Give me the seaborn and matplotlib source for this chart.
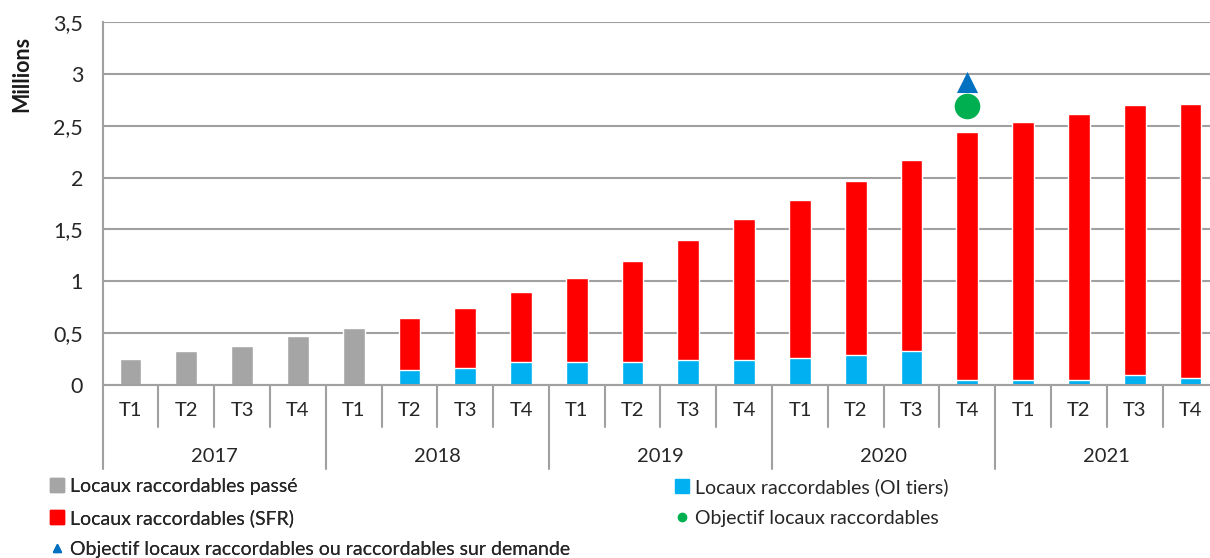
import numpy as np
import pandas as pd
import matplotlib
matplotlib.use("Agg")
import matplotlib.pyplot as plt
import matplotlib.transforms as mtransforms
from matplotlib.lines import Line2D
import seaborn as sns

years = ["2017", "2018", "2019", "2020", "2021"]
quarters = ["T1", "T2", "T3", "T4"]
categories = [f"{y} {q}" for y in years for q in quarters]

# Locaux raccordables passé (2017 T1 -> 2018 T1)
passe_cats = categories[:5]
passe = [0.25, 0.325, 0.375, 0.475, 0.55]

# 2018 T2 -> 2021 T4
split_cats = categories[5:]
oi_tiers = [0.14, 0.165, 0.225, 0.225, 0.225, 0.24, 0.24, 0.265, 0.285, 0.325,
            0.05, 0.05, 0.05, 0.095, 0.07]
sfr = [0.505, 0.58, 0.67, 0.805, 0.975, 1.16, 1.36, 1.515, 1.685, 1.845,
       2.39, 2.49, 2.56, 2.605, 2.64]

objectif_cat = "2020 T4"
objectif = 2.69
objectif_demande = 2.92

sns.set_style("white")
plt.rcParams["font.family"] = ["Lato", "DejaVu Sans"]

GRAY = "#A5A5A5"
RED = "#FF0000"
BLUE = "#00B0F0"
GREEN = "#00B050"
DBLUE = "#0070C0"
AXC = "#A0A0A0"

fig = plt.figure(figsize=(12.1, 5.58), dpi=100)
ax = fig.add_axes([102.6 / 1210, 1 - 385 / 558, 1 - 102.6 / 1210, 363 / 558])

total = [a + b for a, b in zip(oi_tiers, sfr)]
bw = 0.39
sns.barplot(x=passe_cats, y=passe, order=categories, color=GRAY, width=bw,
            saturation=1, errorbar=None, ax=ax)
sns.barplot(x=split_cats, y=total, order=categories, color=RED, width=bw,
            saturation=1, errorbar=None, ax=ax)
sns.barplot(x=split_cats, y=oi_tiers, order=categories, color=BLUE, width=bw,
            saturation=1, errorbar=None, ax=ax)

xi = categories.index(objectif_cat)
ax.scatter([xi], [objectif], marker="o", s=340, color=GREEN, zorder=5, linewidths=0)
ax.scatter([xi], [objectif_demande], marker="^", s=230, color=DBLUE, zorder=5, linewidths=0)

ax.set_ylim(0, 3.5)
ax.set_xlim(-0.5, 19.35)
ax.set_yticks(np.arange(0, 3.51, 0.5))
ax.set_yticklabels([f"{v:g}".replace(".", ",") for v in np.arange(0, 3.51, 0.5)], fontsize=15.5)
ax.set_xticks([])
ax.set_xlabel("")
ax.yaxis.grid(True, color=AXC, lw=1.5)
ax.set_axisbelow(True)
ax.tick_params(axis="y", length=8, width=1.5, color=AXC, pad=6, labelcolor="#262626")
for s in ["top", "right"]:
    ax.spines[s].set_visible(False)
for s in ["left", "bottom"]:
    ax.spines[s].set_color(AXC)
    ax.spines[s].set_linewidth(1.5)

# multi-level category axis
tr = mtransforms.blended_transform_factory(ax.transData, ax.transAxes)
h = 363.0
for k in range(21):
    bottom = -(469 - 385) / h if k % 4 == 0 else -(427 - 385) / h
    ax.plot([k - 0.5, k - 0.5], [0, bottom], color=AXC, lw=1.5, transform=tr, clip_on=False)
for i, c in enumerate(categories):
    ax.text(i, -(410 - 385) / h, c.split()[1], transform=tr, ha="center", va="center",
            fontsize=14.5, color="#262626")
for j, y in enumerate(years):
    ax.text(j * 4 + 1.5, -(456 - 385) / h, y, transform=tr, ha="center", va="center",
            fontsize=14.5, color="#262626")

fig.text(22 / 1210, 1 - 74 / 558, "Millions", rotation=90, ha="center", va="center",
         fontsize=15.5, fontweight="bold", color="#1a1a1a")

# legend
h_passe = Line2D([], [], marker="s", color=GRAY, linestyle="none", markersize=10)
h_sfr = Line2D([], [], marker="s", color=RED, linestyle="none", markersize=10)
h_tri = Line2D([], [], marker="^", color=DBLUE, linestyle="none", markersize=6)
h_oi = Line2D([], [], marker="s", color=BLUE, linestyle="none", markersize=10)
h_obj = Line2D([], [], marker="o", color=GREEN, linestyle="none", markersize=6)

leg_kw = dict(frameon=False, fontsize=14, handlelength=0.7, handletextpad=0.35,
              labelspacing=0.72, borderaxespad=0, borderpad=0)
leg1 = fig.legend([h_passe, h_sfr, h_tri],
                  ["Locaux raccordables passé", "Locaux raccordables (SFR)",
                   "Objectif locaux raccordables ou raccordables sur demande"],
                  loc="upper left", bbox_to_anchor=(50 / 1210, 1 - 478 / 558), **leg_kw)
fig.add_artist(leg1)
fig.legend([h_oi, h_obj],
           ["Locaux raccordables (OI tiers)", "Objectif locaux raccordables"],
           loc="upper left", bbox_to_anchor=(675 / 1210, 1 - 478 / 558), **leg_kw)

fig.savefig("out.png", dpi=100)
